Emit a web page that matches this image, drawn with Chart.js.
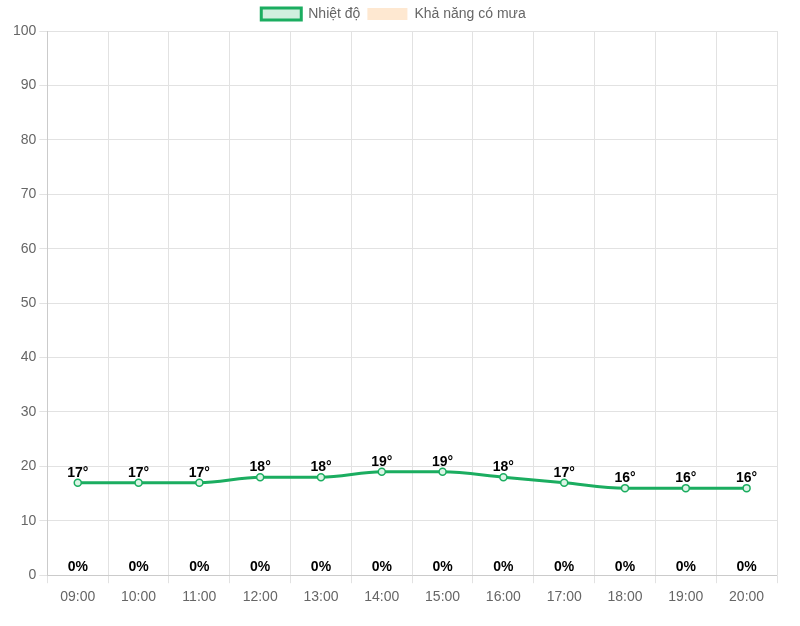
<!DOCTYPE html>
<html>
<head>
<meta charset="utf-8">
<script src="https://cdn.jsdelivr.net/npm/chart.js@4/dist/chart.umd.min.js"></script>
<style>
  html, body { margin: 0; padding: 0; background: #fff; }
  #wrap { width: 800px; height: 626px; }
</style>
</head>
<body>
<div id="wrap"><canvas id="weatherChart"></canvas></div>
<script>
// giờ
var hours = ['09:00', '10:00', '11:00', '12:00', '13:00', '14:00', '15:00', '16:00', '17:00', '18:00', '19:00', '20:00'];
// nhiệt độ
var temps = [17, 17, 17, 18, 18, 19, 19, 18, 17, 16, 16, 16];
// khả năng có mưa (%)
var rainChance = [0, 0, 0, 0, 0, 0, 0, 0, 0, 0, 0, 0];

Chart.defaults.font.family = 'Arial, "Liberation Sans", sans-serif';
Chart.defaults.font.size = 14;
Chart.defaults.color = '#666';

// nhãn trên điểm
var valueLabels = {
  id: 'valueLabels',
  afterDatasetsDraw: function(chart) {
    var ctx = chart.ctx;
    ctx.save();
    ctx.font = 'bold 14px Arial, "Liberation Sans", sans-serif';
    ctx.fillStyle = '#000';
    ctx.textAlign = 'center';
    ctx.textBaseline = 'bottom';
    chart.data.datasets.forEach(function(ds, i) {
      var meta = chart.getDatasetMeta(i);
      meta.data.forEach(function(el, j) {
        if (ds.type === 'line') {
          ctx.fillText(ds.data[j] + '°', el.x, el.y - 3);
        } else {
          ctx.fillText(ds.data[j] + '%', el.x, el.y - 1);
        }
      });
    });
    ctx.restore();
  }
};

var ctx = document.getElementById('weatherChart').getContext('2d');
var chart = new Chart(ctx, {
  data: {
    labels: hours,
    datasets: [{
      type: 'line',
      label: 'Nhiệt độ',
      data: temps,
      borderColor: 'rgb(27, 173, 96)',
      backgroundColor: 'rgba(27, 173, 96, 0.2)',
      borderWidth: 3,
      pointRadius: 3.5,
      pointBorderWidth: 1.5,
      pointBackgroundColor: 'rgba(220, 245, 230, 1)',
      cubicInterpolationMode: 'monotone',
      fill: false
    }, {
      type: 'bar',
      label: 'Khả năng có mưa',
      data: rainChance,
      backgroundColor: 'rgba(253, 222, 190, 0.7)',
      borderWidth: 0
    }]
  },
  options: {
    responsive: true,
    maintainAspectRatio: false,
    animation: false,
    layout: {
      padding: { left: 10, right: 23, top: 0, bottom: 14 }
    },
    plugins: {
      legend: {
        labels: { boxWidth: 40, boxHeight: 12, padding: 7 }
      },
      tooltip: { enabled: false }
    },
    scales: {
      x: {
        offset: true,
        grid: { color: '#e2e2e2', offset: true },
        ticks: { padding: 6 }
      },
      y: {
        min: 0,
        max: 100,
        ticks: { stepSize: 10 },
        grid: { color: '#e2e2e2' }
      }
    }
  },
  plugins: [valueLabels]
});
</script>
</body>
</html>
